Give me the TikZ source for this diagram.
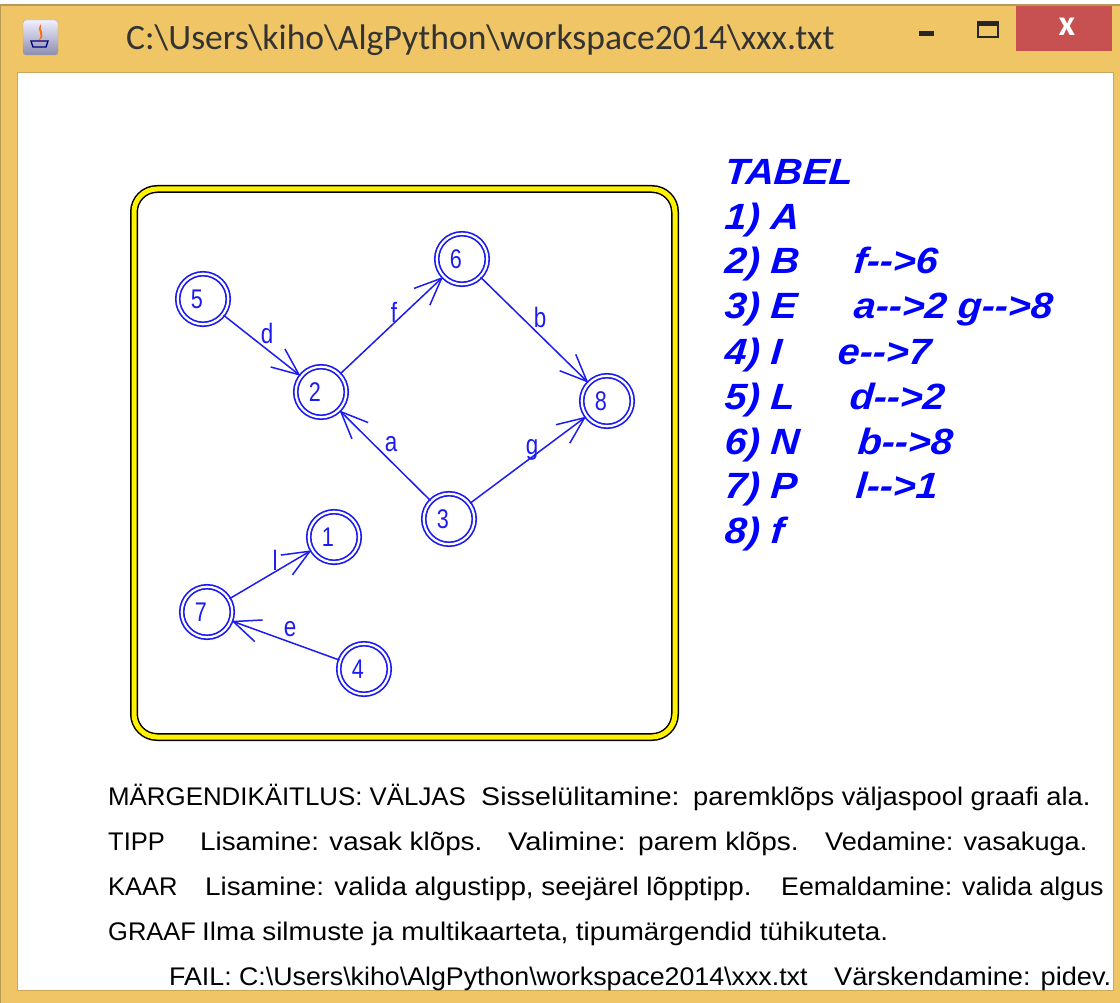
\documentclass[tikz,border=0pt]{standalone}
\usepackage{fontspec}
\setmainfont{Liberation Sans}
\newfontfamily\titlefont{Carlito}
\newfontfamily\tablefont[FakeStretch=1.08,FakeSlant=0.08]{Liberation Sans}
\usetikzlibrary{arrows.meta,shapes.geometric}
\definecolor{winframe}{HTML}{F0C566}
\definecolor{winedge}{HTML}{B89A58}
\definecolor{winclose}{HTML}{C75050}
\definecolor{gblue}{HTML}{1C1CF2}
\newcommand{\bs}{\textbackslash}
\newcommand{\arr}{-{}->}
\newcommand{\sx}[2]{\scalebox{#1}[1]{#2}}
\newcommand{\vlabel}[1]{\hspace*{-12pt}\raisebox{-2pt}{\sx{0.8}{#1}}}
\tikzset{
  vertex/.style={circle,draw=gblue,line width=1.7pt,double=white,double distance=2.2pt,minimum size=50.5pt,inner sep=0pt,text=gblue,font=\fontsize{27}{27}\selectfont},
  edgeline/.style={draw=gblue,line width=1.5pt,-{Straight Barb[length=27pt,width=23pt,line width=1.5pt]}},
  elabel/.style={text=gblue,font=\fontsize{28}{28}\selectfont,inner sep=0pt},
  tabletext/.style={anchor=base west,text=blue,inner sep=0pt,font=\tablefont\fontsize{36.5}{36.5}\selectfont\bfseries\itshape},
  bodytext/.style={anchor=base west,text=black,inner sep=0pt,font=\fontsize{25.5}{25.5}\selectfont},
  panelout/.style={rectangle,minimum width=541pt,minimum height=548pt,rounded corners=23pt,inner sep=0pt}
}
\begin{document}
\begin{tikzpicture}[x=1pt,y=-1pt]
\useasboundingbox (0,0) rectangle (1120,1003);
% window
\fill[white] (0,0) rectangle (1120,1003);
\fill[winframe] (0,5) rectangle (1120,1003);
\draw[winedge,line width=2pt] (0,1003) -- (0,5) -- (1120,5);
\fill[white] (17,73) rectangle (1113,990);
\draw[winedge!70!winframe,line width=1pt] (17,73) rectangle (1113,990);
% title bar
\fill[winclose] (1016,6) rectangle (1112,51);
\node[white,inner sep=0pt,font=\titlefont\bfseries\fontsize{36}{36}\selectfont] (closex) at (1067,27) {x};
\fill[black!85] (919,31) rectangle (934,36);
\draw[black!85,line width=2pt] (978,22) rectangle (998,37);
\fill[black!85] (978,22) rectangle (998,26);
\shade[top color=blue!6!white,bottom color=blue!30!black!45,draw=black!35,rounded corners=3pt] (23,20) rectangle (58,55);
\fill[orange!85!red] (41,24) .. controls (35,32) and (45,33) .. (38,41) .. controls (48,35) and (38,30) .. (41,24);
\draw[blue!50!black,line width=1.3pt] (31,41) -- (33,47) -- (46,47) -- (48,41) -- cycle;
\node[anchor=base west,inner sep=0pt,text=black!80,font=\titlefont\fontsize{35.6}{35.6}\selectfont] (title) at (126,50) {C:\bs Users\bs kiho\bs AlgPython\bs workspace2014\bs xxx.txt};
% panel
\node[panelout,draw=black,line width=8pt] (panel) at (404.5,463) {};
\node[panelout,draw=yellow,line width=5pt] (panelband) at (404.5,463) {};
% vertices
\node[vertex] (v5) at (203,299) {\vlabel{5}};
\node[vertex] (v2) at (321,392) {\vlabel{2}};
\node[vertex] (v6) at (462,259) {\vlabel{6}};
\node[vertex] (v8) at (607,401) {\vlabel{8}};
\node[vertex] (v3) at (449,519) {\vlabel{3}};
\node[vertex] (v1) at (334,537) {\vlabel{1}};
\node[vertex] (v7) at (207,612) {\vlabel{7}};
\node[vertex] (v4) at (364,669) {\vlabel{4}};
% edges
\draw[edgeline] (v5) -- (v2);
\draw[edgeline] (v2) -- (v6);
\draw[edgeline] (v6) -- (v8);
\draw[edgeline] (v3) -- (v2);
\draw[edgeline] (v3) -- (v8);
\draw[edgeline] (v7) -- (v1);
\draw[edgeline] (v4) -- (v7);
% edge labels
\node[elabel] (ld) at (267,333) {\sx{0.8}{d}};
\node[elabel] (lf) at (394,312) {\sx{0.8}{f}};
\node[elabel] (lb) at (540,317) {\sx{0.8}{b}};
\node[elabel] (la) at (391,444) {\sx{0.8}{a}};
\node[elabel] (lg) at (532,450) {\sx{0.8}{g}};
\node[elabel] (ll) at (275,560) {\sx{0.8}{l}};
\node[elabel] (le) at (290,629) {\sx{0.8}{e}};
% table
\node[tabletext] (t0) at (724,185) {TABEL};
\node[tabletext] (t1) at (724,230) {1) A};
\node[tabletext] (t2) at (724,274) {2) B};
\node[tabletext] (t2a) at (853,274) {f\arr6};
\node[tabletext] (t3) at (724,319) {3) E};
\node[tabletext] (t3a) at (853,319) {a\arr2 g\arr8};
\node[tabletext] (t4) at (724,364) {4) I};
\node[tabletext] (t4a) at (837,364) {e\arr7};
\node[tabletext] (t5) at (724,409) {5) L};
\node[tabletext] (t5a) at (849,409) {d\arr2};
\node[tabletext] (t6) at (724,454) {6) N};
\node[tabletext] (t6a) at (857,454) {b\arr8};
\node[tabletext] (t7) at (724,498) {7) P};
\node[tabletext] (t7a) at (855,498) {l\arr1};
\node[tabletext] (t8) at (724,543) {8) f};
% help text
\node[bodytext] (h1a) at (108,805) {\sx{1.014}{MÄRGENDIKÄITLUS: VÄLJAS}};
\node[bodytext] (h1b) at (481,805) {\sx{1.12}{Sisselülitamine:}};
\node[bodytext] (h1c) at (693,805) {\sx{1.07}{paremklõps väljaspool graafi ala.}};
\node[bodytext] (h2a) at (108,850) {TIPP};
\node[bodytext] (h2b) at (200,850) {\sx{1.09}{Lisamine: vasak klõps.}};
\node[bodytext] (h2c) at (508,850) {\sx{1.14}{Valimine:}};
\node[bodytext] (h2d) at (638,850) {\sx{1.10}{parem klõps.}};
\node[bodytext] (h2e) at (825,850) {\sx{1.065}{Vedamine: vasakuga.}};
\node[bodytext] (h3a) at (108,895) {KAAR};
\node[bodytext] (h3b) at (205,895) {\sx{1.09}{Lisamine: valida algustipp, seejärel lõpptipp.}};
\node[bodytext] (h3c) at (781,895) {\sx{1.05}{Eemaldamine: valida algus}};
\node[bodytext] (h4a) at (108,940) {GRAAF};
\node[bodytext] (h4b) at (202,940) {\sx{1.09}{Ilma silmuste ja multikaarteta, tipumärgendid tühikuteta.}};
\node[bodytext] (h5a) at (169,985) {\sx{1.05}{FAIL: C:\bs Users\bs kiho\bs AlgPython\bs workspace2014\bs xxx.txt}};
\node[bodytext] (h5b) at (834,985) {\sx{1.066}{Värskendamine: pidev.}};
\end{tikzpicture}
\end{document}
